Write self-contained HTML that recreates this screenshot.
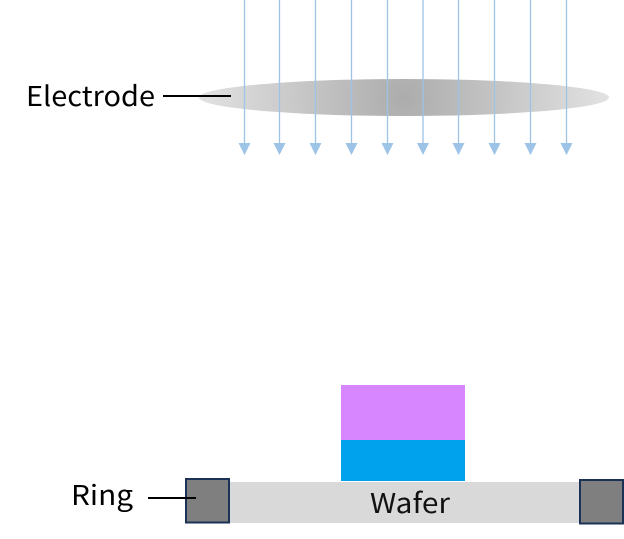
<!DOCTYPE html>
<html>
<head>
<meta charset="utf-8">
<style>
html,body{margin:0;padding:0;background:#fff;}
svg{display:block;}
text{font-family:"Noto Sans CJK KR","DejaVu Sans",sans-serif;fill:#000;}
</style>
</head>
<body>
<svg width="624" height="539" viewBox="0 0 624 539" xmlns="http://www.w3.org/2000/svg">
<defs>
<radialGradient id="g" gradientUnits="userSpaceOnUse" cx="404" cy="97.5" r="205">
<stop offset="0" stop-color="#acacac"/>
<stop offset="1" stop-color="#e2e2e2"/>
</radialGradient>
</defs>
<ellipse cx="404" cy="97.5" rx="205" ry="18.5" fill="url(#g)"/>
<g stroke="#9dc3e6" stroke-width="1.3" fill="none">
<path d="M244.5 0V144M279.5 0V144M315.5 0V144M351.5 0V144M387.5 0V144M423 0V144M458.5 0V144M494.5 0V144M530.5 0V144M566.5 0V144"/>
</g>
<g fill="#9dc3e6">
<path d="M238.5 143h12l-6 12z"/>
<path d="M273.5 143h12l-6 12z"/>
<path d="M309.5 143h12l-6 12z"/>
<path d="M345.5 143h12l-6 12z"/>
<path d="M381.5 143h12l-6 12z"/>
<path d="M417 143h12l-6 12z"/>
<path d="M452.5 143h12l-6 12z"/>
<path d="M488.5 143h12l-6 12z"/>
<path d="M524.5 143h12l-6 12z"/>
<path d="M560.5 143h12l-6 12z"/>
</g>
<path d="M163 96H231" stroke="#000" stroke-width="2"/>
<text x="26" y="106" font-size="27.5" textLength="129" lengthAdjust="spacingAndGlyphs">Electrode</text>

<rect x="341" y="385" width="124" height="55" fill="#d786ff"/>
<rect x="341" y="440" width="124" height="41" fill="#00a2ed"/>
<rect x="230" y="482" width="350" height="41" fill="#d9d9d9"/>
<rect x="186" y="479" width="43" height="43.5" fill="#7f7f7f" stroke="#1b3155" stroke-width="2"/>
<rect x="580" y="480" width="43" height="43.5" fill="#7f7f7f" stroke="#1b3155" stroke-width="2"/>
<path d="M148 498H196" stroke="#000" stroke-width="2"/>
<text x="71" y="505" font-size="27.5" textLength="62" lengthAdjust="spacingAndGlyphs">Ring</text>
<text x="370" y="513" font-size="27.5" textLength="80" lengthAdjust="spacingAndGlyphs" style="fill:#111">Wafer</text>
</svg>
</body>
</html>
